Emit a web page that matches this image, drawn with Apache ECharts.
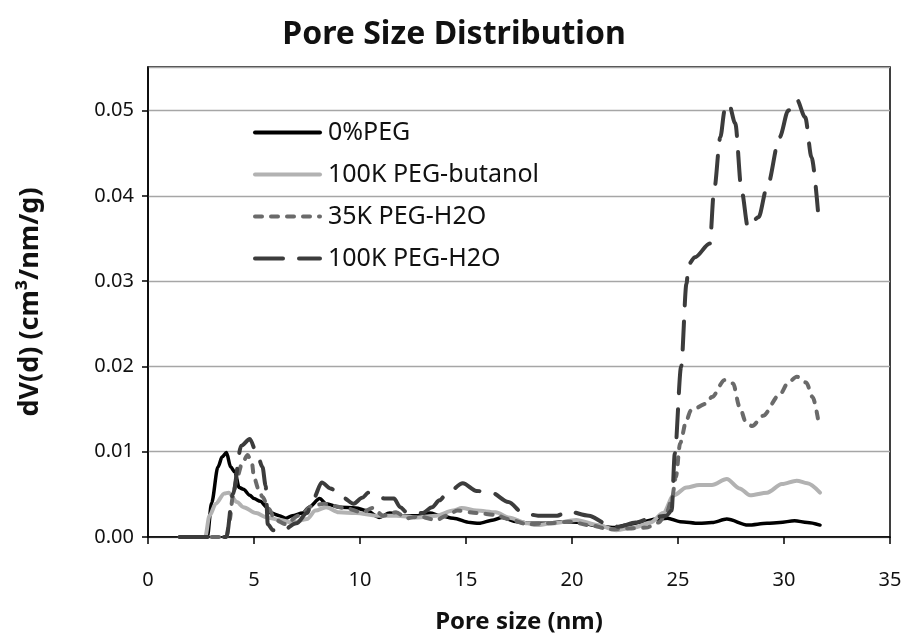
<!DOCTYPE html>
<html>
<head>
<meta charset="utf-8">
<script src="https://cdn.jsdelivr.net/npm/echarts@6/dist/echarts.min.js"></script>
<style>
  html, body { margin: 0; padding: 0; background: #fff; }
  #main { width: 908px; height: 636px; }
</style>
</head>
<body>
<div id="main"></div>
<script>
// series names
const seriesNames = ['0%PEG', '100K PEG-butanol', '35K PEG-H2O', '100K PEG-H2O']

// [pore size (nm), dV(d)]
const peg0 = [
  [1.5, 0], [2.0, 0], [2.5, 0], [2.8, 0], [3.0, 0.004], [3.3, 0.0082], [3.5, 0.0094], [3.7, 0.0099],
  [3.9, 0.0082], [4.1, 0.0076], [4.3, 0.0058], [4.5, 0.0056], [4.8, 0.0049], [5.0, 0.0045], [5.3, 0.0042],
  [5.6, 0.0035], [5.8, 0.0028], [6.2, 0.0025], [6.5, 0.0022], [6.8, 0.0025], [7.3, 0.0028], [7.6, 0.0035],
  [8.1, 0.0045], [8.4, 0.0039], [9.0, 0.0035], [9.8, 0.0034], [10.3, 0.0031], [10.9, 0.0023], [11.4, 0.0028],
  [12.0, 0.0025], [12.7, 0.0025], [13.3, 0.0028], [13.8, 0.0025], [14.4, 0.0022], [15.2, 0.0017], [15.6, 0.0016],
  [16.3, 0.002], [16.7, 0.0023], [17.4, 0.0018], [18.0, 0.0016], [18.8, 0.0016], [19.6, 0.0018], [20.4, 0.0017],
  [21.2, 0.0013], [21.9, 0.0011], [22.6, 0.0014], [23.3, 0.0018], [24.0, 0.0021], [24.5, 0.0022], [25.1, 0.0018],
  [26.0, 0.0016], [26.6, 0.0017], [27.3, 0.0021], [28.3, 0.0014], [29.2, 0.0016], [29.8, 0.0017], [30.5, 0.0019],
  [31.1, 0.0017], [31.7, 0.0014]
]
const peg100kButanol = [
  [1.5, 0], [2.0, 0], [2.7, 0], [2.9, 0.0025], [3.2, 0.0039], [3.6, 0.0051], [3.8, 0.0052], [4.2, 0.0041],
  [4.5, 0.0035], [5.1, 0.0028], [5.6, 0.0023], [6.2, 0.002], [6.8, 0.0017], [7.5, 0.0021], [7.9, 0.0031],
  [8.4, 0.0035], [9.0, 0.0029], [9.8, 0.0028], [10.8, 0.0025], [11.7, 0.0025], [12.7, 0.0023], [13.6, 0.0025],
  [14.4, 0.0031], [14.8, 0.0034], [15.5, 0.0031], [16.4, 0.0029], [17.0, 0.0023], [17.9, 0.0016], [18.3, 0.0014],
  [19.1, 0.0016], [20.2, 0.002], [21.2, 0.0014], [22.1, 0.0008], [22.9, 0.0011], [23.7, 0.0017], [24.3, 0.0028],
  [24.8, 0.0049], [25.4, 0.0058], [26.0, 0.0061], [26.6, 0.0061], [27.3, 0.0068], [27.9, 0.0057], [28.4, 0.0049],
  [29.2, 0.0052], [29.9, 0.0062], [30.6, 0.0066], [31.1, 0.0063], [31.7, 0.0052]
]
const peg35kH2O = [
  [1.5, 0], [2.5, 0], [3.7, 0], [3.85, 0.002], [4.0, 0.0047], [4.2, 0.007], [4.45, 0.0087], [4.7, 0.0096],
  [4.9, 0.0087], [5.0, 0.007], [5.2, 0.0057], [5.4, 0.0047], [5.7, 0.0033], [6.0, 0.002], [6.5, 0.0015],
  [7.1, 0.0025], [7.8, 0.0037], [8.3, 0.0039], [9.3, 0.0034], [10.1, 0.0029], [10.6, 0.0034], [11.1, 0.0025],
  [11.7, 0.0029], [12.2, 0.0022], [12.8, 0.0024], [13.6, 0.002], [14.1, 0.0025], [14.6, 0.0031], [15.5, 0.0028],
  [16.4, 0.0026], [17.0, 0.0021], [17.9, 0.0015], [18.9, 0.0016], [19.9, 0.0018], [20.8, 0.0014], [21.8, 0.0009],
  [22.7, 0.001], [23.5, 0.0011], [24.1, 0.0017], [24.45, 0.0028], [24.7, 0.0043], [24.9, 0.007], [25.1, 0.011],
  [25.4, 0.0137], [25.6, 0.0148], [26.3, 0.0156], [26.6, 0.0164], [27.2, 0.0184], [27.6, 0.018], [27.9, 0.0153],
  [28.2, 0.0135], [28.5, 0.013], [29.0, 0.0142], [29.8, 0.0167], [30.2, 0.0181], [30.6, 0.0188], [31.05, 0.0181],
  [31.35, 0.0164], [31.6, 0.0139]
]
const peg100kH2O = [
  [1.5, 0], [2.5, 0], [3.7, 0], [4.0, 0.005], [4.4, 0.0107], [4.8, 0.0115], [5.2, 0.0093], [5.4, 0.0082],
  [5.55, 0.006], [5.65, 0.0015], [5.9, 0.0008], [6.3, 0.0007], [7.0, 0.0016], [7.5, 0.0028], [7.8, 0.0045],
  [8.2, 0.0064], [8.6, 0.0057], [9.2, 0.0046], [9.7, 0.0039], [10.1, 0.0046], [10.4, 0.0052], [11.2, 0.0045],
  [11.6, 0.0045], [11.9, 0.0035], [12.2, 0.0029], [12.95, 0.0028], [13.4, 0.0035], [13.75, 0.0043], [14.1, 0.0051],
  [14.85, 0.0063], [15.5, 0.0054], [16.2, 0.0052], [17.0, 0.0041], [17.7, 0.0028], [18.4, 0.0025], [19.3, 0.0025],
  [19.8, 0.003], [20.8, 0.0025], [21.6, 0.0016], [22.2, 0.0012], [23.0, 0.0017], [23.8, 0.0023], [24.45, 0.0025],
  [24.7, 0.0031], [24.85, 0.0098], [25.15, 0.02], [25.4, 0.0297], [25.5, 0.032], [25.8, 0.0328], [26.5, 0.0344],
  [26.7, 0.0406], [27.0, 0.0469], [27.2, 0.05], [27.4, 0.0508], [27.7, 0.0485], [28.0, 0.0406], [28.3, 0.0363],
  [28.8, 0.0375], [29.2, 0.041], [29.8, 0.0469], [30.2, 0.05], [30.6, 0.0513], [31.0, 0.0492], [31.3, 0.0445],
  [31.6, 0.0383]
]

const chart = echarts.init(document.getElementById('main'), null, { renderer: 'canvas' })

function lineSeries(name, data, color, width, dash) {
  return {
    name: name,
    type: 'line',
    data: data,
    showSymbol: false,
    symbol: 'none',
    smooth: 0.3,
    smoothMonotone: 'x',
    lineStyle: { color: color, width: width, type: dash, cap: 'round', join: 'round' },
    itemStyle: { color: color },
    animation: false
  }
}

const font = '"Noto Sans", "Open Sans", sans-serif'

chart.setOption({
  backgroundColor: '#fff',
  title: {
    text: 'Pore Size Distribution',
    left: 'center',
    top: 14,
    textStyle: { fontFamily: font, fontSize: 32, fontWeight: 'bold', color: '#111' }
  },
  legend: {
    orient: 'vertical',
    left: 248,
    top: 115,
    itemWidth: 65,
    itemHeight: 14,
    itemGap: 17,
    data: seriesNames,
    itemStyle: { color: 'transparent', borderWidth: 0, opacity: 0 },
    lineStyle: { width: 4, cap: 'round' },
    textStyle: { fontFamily: font, fontSize: 25, color: '#111', padding: [0, 0, 0, 3] }
  },
  grid: {
    left: 148,
    top: 67,
    width: 742,
    height: 470,
    outerBoundsMode: 'none',
    show: true,
    borderColor: '#000',
    borderWidth: 1.5,
    backgroundColor: 'transparent'
  },
  xAxis: {
    type: 'value',
    min: 0,
    max: 35,
    interval: 5,
    name: 'Pore size (nm)',
    nameLocation: 'middle',
    nameGap: 73,
    nameTextStyle: { fontFamily: font, fontSize: 24, fontWeight: 'bold', color: '#111' },
    axisLine: { lineStyle: { color: '#000', width: 1.5 } },
    axisTick: { length: 7, lineStyle: { color: '#000', width: 1.5 } },
    axisLabel: { fontFamily: font, fontSize: 20, color: '#111', margin: 33 },
    splitLine: { show: false }
  },
  yAxis: {
    type: 'value',
    min: 0,
    max: 0.0551,
    interval: 0.01,
    name: 'dV(d) (cm³/nm/g)',
    nameLocation: 'middle',
    nameGap: 104,
    nameTextStyle: { fontFamily: font, fontSize: 27, fontWeight: 'bold', color: '#111' },
    axisLine: { show: true, lineStyle: { color: '#000', width: 1.5 } },
    axisTick: { show: true, length: 6, lineStyle: { color: '#000', width: 1.5 } },
    axisLabel: {
      fontFamily: font, fontSize: 20, color: '#111', margin: 14, showMaxLabel: false,
      formatter: function (v) { return v.toFixed(2) }
    },
    splitLine: { lineStyle: { color: '#a6a6a6', width: 1.3 } }
  },
  series: [
    lineSeries(seriesNames[0], peg0, '#000000', 3.5, 'solid'),
    lineSeries(seriesNames[1], peg100kButanol, '#b2b2b2', 4, 'solid'),
    lineSeries(seriesNames[2], peg35kH2O, '#6a6a6a', 4, [7, 9]),
    lineSeries(seriesNames[3], peg100kH2O, '#3c3c3c', 4, [28, 16])
  ]
})
</script>
</body>
</html>
